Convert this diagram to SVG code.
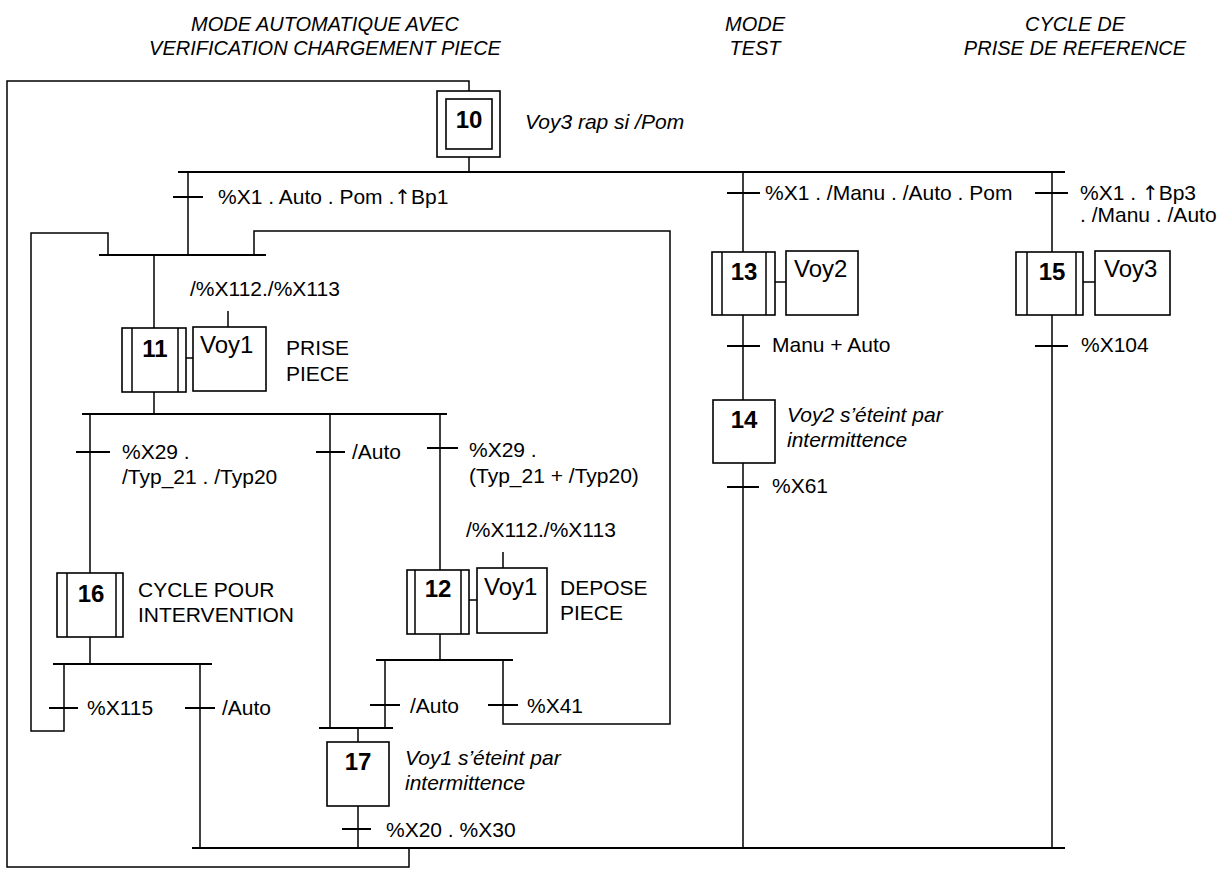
<svg xmlns="http://www.w3.org/2000/svg" width="1224" height="871" viewBox="0 0 1224 871">
<style>
text{font-family:"Liberation Sans",Arial,"DejaVu Sans",sans-serif;fill:#000}
.t{font-size:20px;font-style:italic}
.l{font-size:21px}
.a{font-size:24px}
.n{font-size:24px;font-weight:bold;text-anchor:middle}
.i{font-size:21px;font-style:italic}
.ar{font-family:"DejaVu Sans",sans-serif;font-size:20px}
.s{fill:#fff;stroke:#000;stroke-width:1.6}
.w{fill:none;stroke:#000;stroke-width:1.5}
.c{fill:none;stroke:#000;stroke-width:1.5}
.h{fill:none;stroke:#000;stroke-width:2.2}
.k{fill:none;stroke:#000;stroke-width:1.8}
</style>
<rect width="1224" height="871" fill="#fff"/>
<g id="titles">
<text class="t" x="325" y="31" text-anchor="middle">MODE AUTOMATIQUE AVEC</text>
<text class="t" x="325" y="55" text-anchor="middle">VERIFICATION CHARGEMENT PIECE</text>
<text class="t" x="755" y="31" text-anchor="middle">MODE</text>
<text class="t" x="755" y="55" text-anchor="middle">TEST</text>
<text class="t" x="1075" y="31" text-anchor="middle">CYCLE DE</text>
<text class="t" x="1075" y="55" text-anchor="middle">PRISE DE REFERENCE</text>
</g>
<g id="connectors">
<path class="c" d="M409 848V867H7V81H469V91"/>
<path class="c" d="M469 157V172"/>
<path class="h" d="M178 172H1065"/>
<path class="c" d="M188 172V255"/>
<path class="h" d="M99 255H266"/>
<path class="c" d="M108 255V233H31V731H64V664"/>
<path class="c" d="M254 255V231H670V724H503V660"/>
<path class="c" d="M154 255V328M154 392V414"/>
<path class="h" d="M82 414H447"/>
<path class="c" d="M90 414V573M330 414V728M440 414V570"/>
<path class="c" d="M90 637V664"/>
<path class="h" d="M53 664H212"/>
<path class="c" d="M200 664V848"/>
<path class="c" d="M440 634V660"/>
<path class="h" d="M376 660H513"/>
<path class="c" d="M385 660V728"/>
<path class="h" d="M319 728H393"/>
<path class="c" d="M358 728V742M358 806V848"/>
<path class="h" d="M192 848H1065"/>
<path class="c" d="M743 172V252M743 315V400M743 463V848"/>
<path class="c" d="M1052 172V252M1052 315V848"/>
<path class="c" d="M186 358H193M775 282H786M1083 282H1095M469 600H477M228 311V327M503 552V568"/>
<path class="k" d="M173 197H203M727 193H760M1035 193H1068M76 452H110M316 452H345M427 448H458M727 346H760M1035 346H1068M727 487H759M49 708H78M185 708H215M370 705H400M488 705H518M342 829H371"/>
</g>
<g id="step10">
<rect class="s" x="437" y="91" width="63" height="66"/>
<rect class="s" x="446" y="99" width="46" height="50"/>
<text class="n" x="469" y="128">10</text>
<text class="i" x="525" y="129">Voy3 rap si /Pom</text>
</g>
<g id="step11">
<rect class="s" x="122" y="328" width="64" height="64"/>
<path class="w" d="M132 328V392M178 328V392"/>
<text class="n" x="155" y="357">11</text>
<rect class="s" x="193" y="327" width="73" height="64"/>
<text class="a" x="200" y="353">Voy1</text>
<text class="l" x="190" y="296">/%X112./%X113</text>
<text class="l" x="286" y="355">PRISE</text>
<text class="l" x="286" y="381">PIECE</text>
</g>
<g id="step13">
<rect class="s" x="712" y="252" width="63" height="63"/>
<path class="w" d="M722 252V315M766 252V315"/>
<text class="n" x="744" y="280">13</text>
<rect class="s" x="786" y="251" width="72" height="64"/>
<text class="a" x="794" y="277">Voy2</text>
</g>
<g id="step15">
<rect class="s" x="1016" y="252" width="67" height="63"/>
<path class="w" d="M1027 252V315M1076 252V315"/>
<text class="n" x="1052" y="280">15</text>
<rect class="s" x="1095" y="251" width="75" height="64"/>
<text class="a" x="1104" y="277">Voy3</text>
</g>
<g id="step14">
<rect class="s" x="713" y="400" width="62" height="63"/>
<text class="n" x="744" y="428">14</text>
<text class="i" x="787" y="422">Voy2 s’éteint par</text>
<text class="i" x="787" y="447">intermittence</text>
</g>
<g id="step16">
<rect class="s" x="57" y="573" width="66" height="64"/>
<path class="w" d="M67 573V637M116 573V637"/>
<text class="n" x="91" y="602">16</text>
<text class="l" x="138" y="597">CYCLE POUR</text>
<text class="l" x="138" y="622">INTERVENTION</text>
</g>
<g id="step12">
<rect class="s" x="407" y="570" width="62" height="64"/>
<path class="w" d="M415 570V634M461 570V634"/>
<text class="n" x="438" y="597">12</text>
<rect class="s" x="477" y="568" width="70" height="65"/>
<text class="a" x="484" y="595">Voy1</text>
<text class="l" x="466" y="537">/%X112./%X113</text>
<text class="l" x="560" y="595">DEPOSE</text>
<text class="l" x="560" y="620">PIECE</text>
</g>
<g id="step17">
<rect class="s" x="327" y="742" width="62" height="64"/>
<text class="n" x="358" y="770">17</text>
<text class="i" x="405" y="765">Voy1 s’éteint par</text>
<text class="i" x="405" y="790">intermittence</text>
</g>
<g id="labels">
<text class="l" x="218" y="204">%X1 . Auto . Pom .<tspan class="ar">↑</tspan>Bp1</text>
<text class="l" x="765" y="200">%X1 . /Manu . /Auto . Pom</text>
<text class="l" x="1080" y="200">%X1 . <tspan class="ar">↑</tspan>Bp3</text>
<text class="l" x="1080" y="222">. /Manu . /Auto</text>
<text class="l" x="772" y="352">Manu + Auto</text>
<text class="l" x="1081" y="352">%X104</text>
<text class="l" x="772" y="493">%X61</text>
<text class="l" x="122" y="459">%X29 .</text>
<text class="l" x="122" y="484">/Typ_21 . /Typ20</text>
<text class="l" x="352" y="459">/Auto</text>
<text class="l" x="469" y="457">%X29 .</text>
<text class="l" x="469" y="483">(Typ_21 + /Typ20)</text>
<text class="l" x="87" y="715">%X115</text>
<text class="l" x="222" y="715">/Auto</text>
<text class="l" x="410" y="713">/Auto</text>
<text class="l" x="527" y="713">%X41</text>
<text class="l" x="386" y="837">%X20 . %X30</text>
</g>
</svg>
